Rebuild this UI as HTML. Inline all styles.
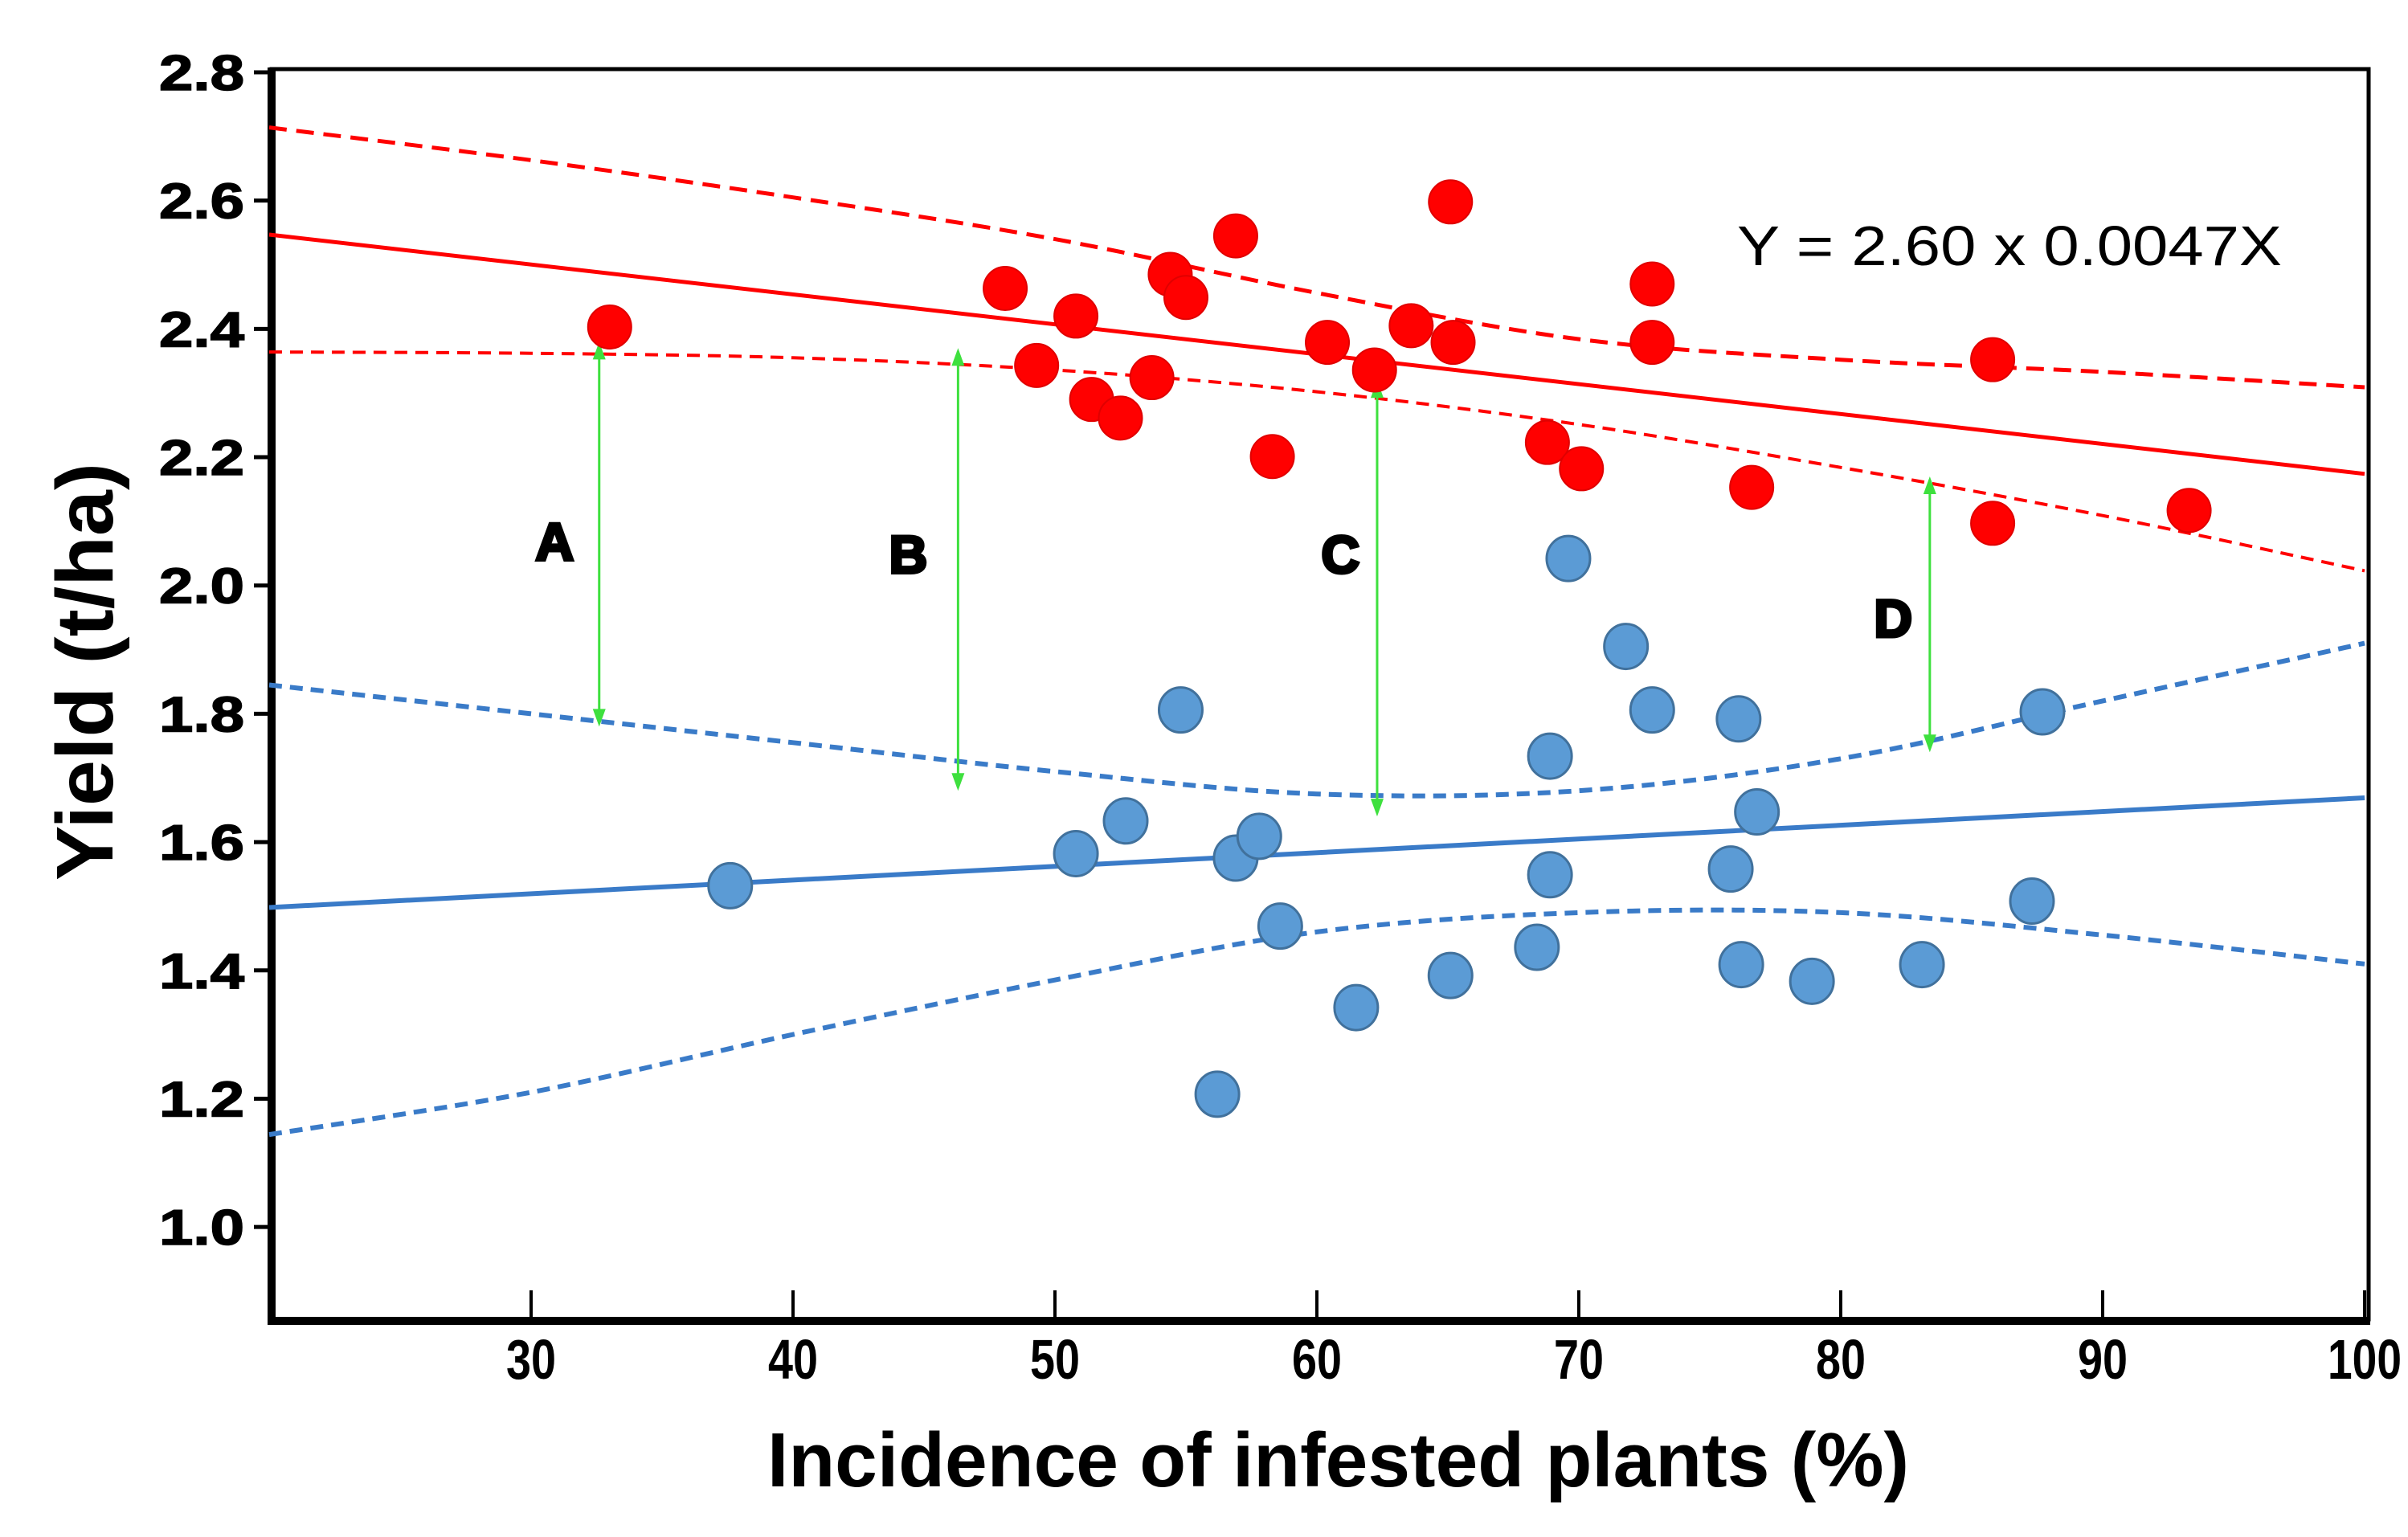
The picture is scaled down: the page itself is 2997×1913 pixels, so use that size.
<!DOCTYPE html>
<html><head><meta charset="utf-8"><style>html,body{margin:0;padding:0;background:#fff}svg{display:block}</style></head>
<body>
<svg id="chart" xmlns="http://www.w3.org/2000/svg" width="2997" height="1913" viewBox="0 0 2997 1913">
<rect width="2997" height="1913" fill="#fff"/>
<g id="plot"></g>
</svg>
<script>
const xTicks = [30, 40, 50, 60, 70, 80, 90, 100];
const yTicks = [1.0, 1.2, 1.4, 1.6, 1.8, 2.0, 2.2, 2.4, 2.6, 2.8];
const yTickLabels = ["1.0","1.2","1.4","1.6","1.8","2.0","2.2","2.4","2.6","2.8"];
const redX = [33.0,48.1,50.8,49.3,51.4,52.5,53.7,54.4,55.0,56.9,58.3,60.4,62.2,63.6,65.1,65.2,68.8,70.1,72.8,72.8,76.6,85.8,85.8,93.3];
const redY = [2.403,2.463,2.420,2.343,2.290,2.261,2.324,2.485,2.449,2.545,2.201,2.379,2.336,2.405,2.598,2.379,2.223,2.182,2.470,2.379,2.153,2.352,2.097,2.117];
const blueX = [37.6,50.8,52.7,54.8,56.2,56.9,57.8,58.6,61.5,65.1,68.4,68.9,68.9,69.6,71.8,72.8,75.8,76.1,76.2,76.8,78.9,83.1,87.3,87.7];
const blueY = [1.532,1.582,1.633,1.806,1.207,1.575,1.609,1.469,1.342,1.392,1.436,1.734,1.549,2.042,1.905,1.806,1.558,1.792,1.409,1.647,1.383,1.409,1.508,1.803];
const bandX = [20,30,40,50,60,70,80,90,100];
const redUpper = [2.714,2.663,2.605,2.540,2.456,2.384,2.352,2.333,2.309];
const redLower = [2.364,2.362,2.355,2.336,2.302,2.251,2.184,2.109,2.023];
const blueUpper = [1.845,1.80,1.755,1.71,1.675,1.68,1.73,1.82,1.91];
const blueLower = [1.144,1.21,1.30,1.385,1.46,1.49,1.49,1.455,1.41];
const fitX = [20,100];
const redFit = [2.547,2.174];
const blueFit = [1.498,1.669];
const arrowX = [32.6,46.3,62.3,83.4];
const arrowTop = [2.38,2.37,2.32,2.17];
const arrowBottom = [1.78,1.68,1.64,1.74];
const letterLabels = ["A","B","C","D"];
const letterX = [30.9,44.4,60.9,82.0];
const letterY = [2.07,2.05,2.05,1.95];

const NS = "http://www.w3.org/2000/svg";
const X0 = 335, XS = 32.6;
const sx = v => X0 + (v - 20) * XS;
const sy = v => 90 + (2.8 - v) * 798.4;
const g = document.getElementById('plot');
function el(tag, attrs, parent) {
  const e = document.createElementNS(NS, tag);
  for (const k in attrs) e.setAttribute(k, attrs[k]);
  (parent || g).appendChild(e);
  return e;
}
function pathFrom(xs, ys) {
  return xs.map((x, i) => (i ? 'L' : 'M') + sx(x).toFixed(1) + ',' + sy(ys[i]).toFixed(1)).join(' ');
}
function smoothPath(xs, ys) {
  const p = xs.map((x, i) => [sx(x), sy(ys[i])]);
  let d = 'M' + p[0][0] + ',' + p[0][1];
  for (let i = 0; i < p.length - 1; i++) {
    const p0 = p[i - 1] || p[i], p1 = p[i], p2 = p[i + 1], p3 = p[i + 2] || p2;
    const c1 = [p1[0] + (p2[0] - p0[0]) / 6, p1[1] + (p2[1] - p0[1]) / 6];
    const c2 = [p2[0] - (p3[0] - p1[0]) / 6, p2[1] - (p3[1] - p1[1]) / 6];
    d += ` C${c1[0].toFixed(1)},${c1[1].toFixed(1)} ${c2[0].toFixed(1)},${c2[1].toFixed(1)} ${p2[0].toFixed(1)},${p2[1].toFixed(1)}`;
  }
  return d;
}

const frame = el('rect', {x: 338, y: 86, width: 2610, height: 1556, fill: 'none', stroke: '#000', 'stroke-width': 5});


const la = el('line', {x1: 338, y1: 84, x2: 338, y2: 1648, stroke: '#000', 'stroke-width': 10});


const ba = el('line', {x1: 333, y1: 1644, x2: 2950, y2: 1644, stroke: '#000', 'stroke-width': 10});



yTicks.forEach((v, i) => {
  const t = el('line', {x1: 316, y1: sy(v), x2: 338, y2: sy(v), stroke: '#000', 'stroke-width': 5});
  
  
  const tx = el('text', {x: 304, y: sy(v) + 22, 'text-anchor': 'end', 'font-family': 'Liberation Sans, sans-serif', 'font-weight': 'bold', 'font-size': 62, textLength: 106, lengthAdjust: 'spacingAndGlyphs', stroke: '#000', 'stroke-width': 1.5});
  tx.textContent = yTickLabels[i];
  
  
});
xTicks.forEach(v => {
  const t = el('line', {x1: sx(v), y1: 1606, x2: sx(v), y2: 1642, stroke: '#000', 'stroke-width': 4});
  
  
  const w = v >= 100 ? 92 : 62;
  const tx = el('text', {x: sx(v), y: 1716, 'text-anchor': 'middle', 'font-family': 'Liberation Sans, sans-serif', 'font-weight': 'bold', 'font-size': 70, textLength: w, lengthAdjust: 'spacingAndGlyphs'});
  tx.textContent = String(v);
  
  
});

const bands = [
  [redUpper, '#ff0000', 5, '22 12', 'red-upper-confidence-band'],
  [redLower, '#ff0000', 4, '16 10', 'red-lower-confidence-band'],
  [blueUpper, '#3a7bc8', 6, '16 10', 'blue-upper-confidence-band'],
  [blueLower, '#3a7bc8', 6, '16 10', 'blue-lower-confidence-band']
];
bands.forEach(b => {
  const p = el('path', {d: smoothPath(bandX, b[0]), fill: 'none', stroke: b[1], 'stroke-width': b[2], 'stroke-dasharray': b[3]});
  
  
});
const rf = el('path', {d: pathFrom(fitX, redFit), fill: 'none', stroke: '#ff0000', 'stroke-width': 5});


const bf = el('path', {d: pathFrom(fitX, blueFit), fill: 'none', stroke: '#3a7bc8', 'stroke-width': 6});



arrowX.forEach((x, i) => {
  const X = sx(x), T = sy(arrowTop[i]), B = sy(arrowBottom[i]);
  const l = el('line', {x1: X, y1: T + 4, x2: X, y2: B - 4, stroke: '#3ee03e', 'stroke-width': 3});
  
  
  const h1 = el('path', {d: `M${X - 8},${T + 22} L${X},${T} L${X + 8},${T + 22} Z`, fill: '#3ee03e'});
  
  
  const h2 = el('path', {d: `M${X - 8},${B - 22} L${X},${B} L${X + 8},${B - 22} Z`, fill: '#3ee03e'});
  
  
  const t = el('text', {x: sx(letterX[i]), y: sy(letterY[i]) + 24, 'text-anchor': 'middle', 'font-family': 'Liberation Sans, sans-serif', 'font-weight': 'bold', 'font-size': 66, stroke: '#000', 'stroke-width': 4});
  t.textContent = letterLabels[i];
  
  
});

redX.forEach((x, i) => {
  const c = el('ellipse', {cx: sx(x), cy: sy(redY[i]), rx: 27, ry: 27, fill: '#ff0000', stroke: '#e00000', 'stroke-width': 2});
  
  
});
blueX.forEach((x, i) => {
  const c = el('ellipse', {cx: sx(x), cy: sy(blueY[i]), rx: 27, ry: 28, fill: '#5b9bd5', stroke: '#41719c', 'stroke-width': 3});
  
  
});

const eq = el('text', {x: 2162, y: 330, 'font-family': 'Liberation Sans, sans-serif', 'font-size': 70, textLength: 678, lengthAdjust: 'spacingAndGlyphs'});
eq.textContent = 'Y = 2.60 x 0.0047X';


const xt = el('text', {x: 955, y: 1850, 'font-family': 'Liberation Sans, sans-serif', 'font-weight': 'bold', 'font-size': 96, textLength: 1421, lengthAdjust: 'spacingAndGlyphs'});
xt.textContent = 'Incidence of infested plants (%)';


const yt = el('text', {x: 0, y: 0, transform: 'translate(140,836) rotate(-90)', 'text-anchor': 'middle', 'font-family': 'Liberation Sans, sans-serif', 'font-weight': 'bold', 'font-size': 100, textLength: 520, lengthAdjust: 'spacingAndGlyphs'});
yt.textContent = 'Yield (t/ha)';


</script>
</body></html>
